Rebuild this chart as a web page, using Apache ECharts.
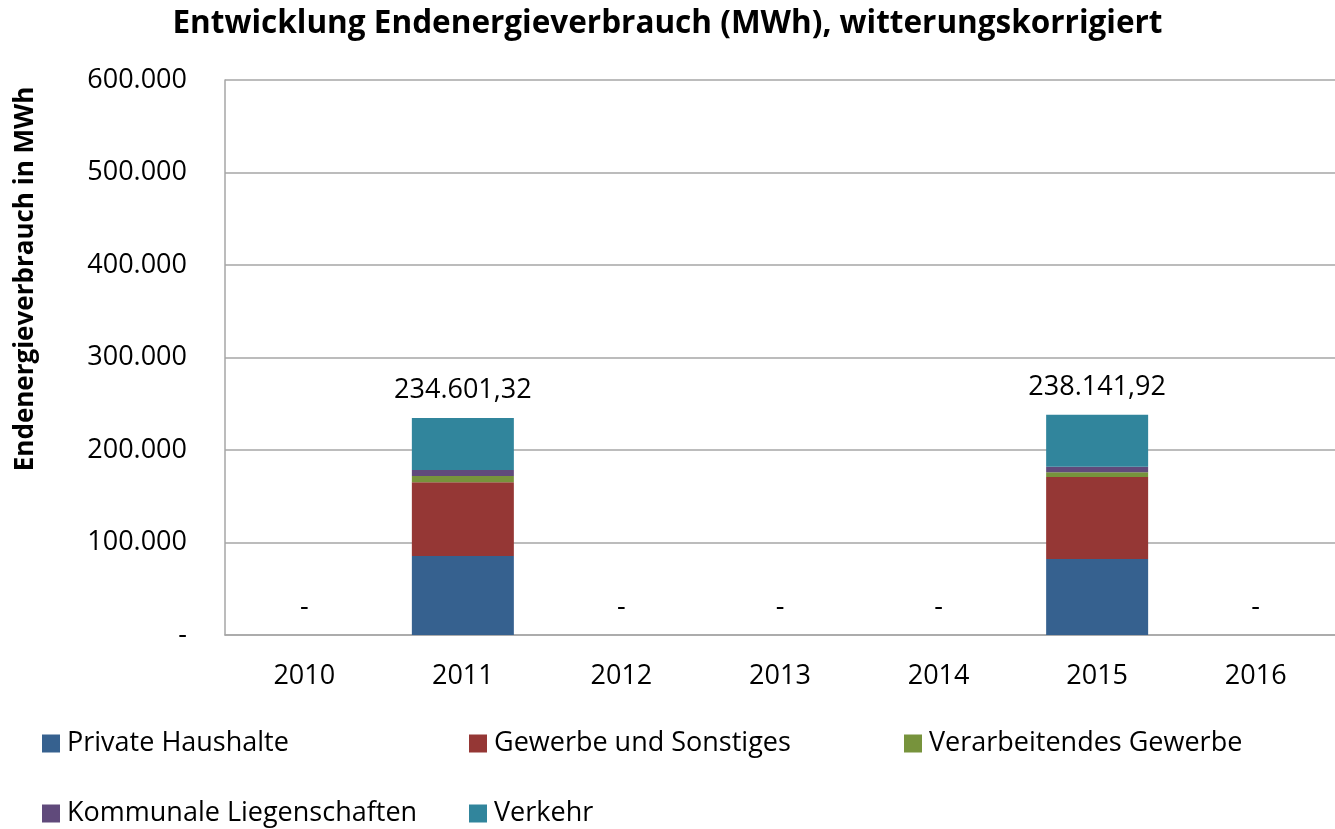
<!DOCTYPE html>
<html>
<head>
<meta charset="utf-8">
<script src="https://cdn.jsdelivr.net/npm/echarts@6/dist/echarts.min.js"></script>
<style>
  html, body { margin: 0; padding: 0; background: #fff; }
  #chart { width: 1335px; height: 829px; }
</style>
</head>
<body>
<div id="chart"></div>
<script>
// Jahre
const years = ['2010', '2011', '2012', '2013', '2014', '2015', '2016']
// Sektoren (MWh), nur 2011 und 2015 mit Werten
const privateHaushalte = [0, 85400, 0, 0, 0, 82200, 0]
const gewerbeSonstiges = [0, 79700, 0, 0, 0, 88600, 0]
const verarbeitendesGewerbe = [0, 6800, 0, 0, 0, 5100, 0]
const kommunaleLiegenschaften = [0, 6500, 0, 0, 0, 6100, 0]
const verkehr = [0, 56201.32, 0, 0, 0, 56141.92, 0]
const yTicks = [0, 100000, 200000, 300000, 400000, 500000, 600000]

const FONT = 'Open Sans'
const FS = 27

const deNum = (v, dec) => {
  const parts = v.toFixed(dec).split('.')
  const int = parts[0].replace(/\B(?=(\d{3})+(?!\d))/g, '.')
  return parts[1] ? int + ',' + parts[1] : int
}

const seriesDefs = [
  { name: 'Private Haushalte', data: privateHaushalte, color: '#36618f' },
  { name: 'Gewerbe und Sonstiges', data: gewerbeSonstiges, color: '#953735' },
  { name: 'Verarbeitendes Gewerbe', data: verarbeitendesGewerbe, color: '#77933c' },
  { name: 'Kommunale Liegenschaften', data: kommunaleLiegenschaften, color: '#604a7b' },
  { name: 'Verkehr', data: verkehr, color: '#31859c' },
]

const totalAt = (i) => seriesDefs.reduce((s, d) => s + d.data[i], 0)

const series = seriesDefs.map((d, idx) => {
  const s = {
    name: d.name,
    type: 'bar',
    stack: 'total',
    barWidth: 102,
    data: d.data,
    itemStyle: { color: d.color },
  }
  if (idx === seriesDefs.length - 1) {
    s.label = {
      show: true,
      position: 'top',
      distance: 14,
      fontFamily: FONT,
      fontSize: FS,
      color: '#000',
      formatter: (p) => {
        const t = totalAt(p.dataIndex)
        return t === 0 ? '-' : deNum(t, 2)
      },
    }
  }
  return s
})

const legendPos = [
  { left: 37, top: 725 },
  { left: 464, top: 725 },
  { left: 899, top: 725 },
  { left: 37, top: 795 },
  { left: 464, top: 795 },
]

const chart = echarts.init(document.getElementById('chart'))
chart.setOption({
  animation: false,
  title: {
    text: 'Entwicklung Endenergieverbrauch (MWh), witterungskorrigiert',
    left: 'center',
    top: 3,
    textStyle: { fontFamily: FONT, fontWeight: 'bold', fontSize: 31.5, color: '#000' },
  },
  legend: seriesDefs.map((d, i) => ({
    data: [d.name],
    left: legendPos[i].left,
    top: legendPos[i].top,
    icon: 'rect',
    itemWidth: 18,
    itemHeight: 18,
    itemGap: 0,
    textStyle: { fontFamily: FONT, fontSize: FS, color: '#000', padding: [0, 0, 0, 2] },
  })),
  grid: { left: 225, right: 0, top: 80, bottom: 194 },
  xAxis: {
    type: 'category',
    data: years,
    axisTick: { show: false },
    axisLine: { lineStyle: { color: '#a6a6a6', width: 1.5 } },
    axisLabel: { fontFamily: FONT, fontSize: FS, color: '#000', margin: 28 },
  },
  yAxis: {
    type: 'value',
    min: yTicks[0],
    max: yTicks[yTicks.length - 1],
    interval: yTicks[1] - yTicks[0],
    axisLine: { show: true, lineStyle: { color: '#a6a6a6', width: 1.5 } },
    axisTick: { show: false },
    splitLine: { lineStyle: { color: '#a6a6a6', width: 1.5 } },
    axisLabel: {
      fontFamily: FONT,
      fontSize: FS,
      color: '#000',
      margin: 38,
      formatter: (v) => (v === 0 ? '-' : deNum(v, 0)),
    },
  },
  graphic: [{
    type: 'text',
    x: 26,
    y: 279,
    rotation: Math.PI / 2,
    style: {
      text: 'Endenergieverbrauch in MWh',
      fontFamily: FONT,
      fontWeight: 'bold',
      fontSize: 26,
      fill: '#000',
      align: 'center',
      verticalAlign: 'middle',
    },
  }],
  series,
})
</script>
</body>
</html>
